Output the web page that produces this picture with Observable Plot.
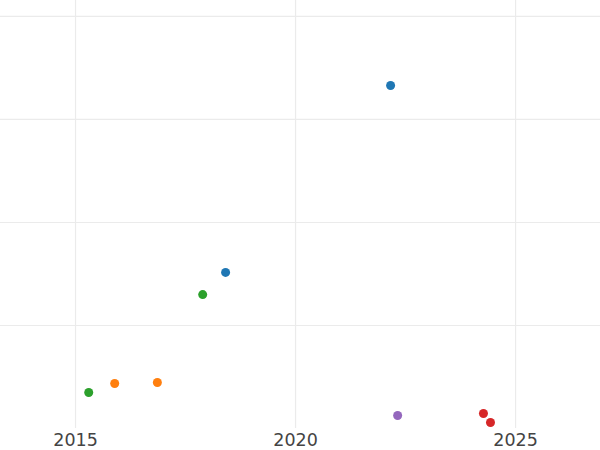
<!DOCTYPE html>
<html>
<head>
<meta charset="utf-8">
<script src="https://cdn.jsdelivr.net/npm/d3@7"></script>
<script src="https://cdn.jsdelivr.net/npm/@observablehq/plot@0.6"></script>
<style>
  html, body { margin: 0; padding: 0; background: #fff; }
</style>
</head>
<body>
<div id="chart"></div>
<script>
const years = [2022.16, 2018.41, 2017.89, 2015.30, 2015.89, 2016.86, 2022.32, 2024.27, 2024.43];
const values = [333, 151.5, 130, 35, 43.7, 44.7, 12.6, 14.6, 5.8];
const groups = ["A", "A", "C", "C", "B", "B", "E", "D", "D"];
const groupNames = ["A", "B", "C", "D", "E"];
const groupColors = ["#1f77b4", "#ff7f0e", "#2ca02c", "#d62728", "#9467bd"];
const xTicks = [2015, 2020, 2025];
const yTicks = [100, 200, 300, 400];

const data = years.map((x, i) => ({x, y: values[i], g: groups[i]}));

const chart = Plot.plot({
  width: 600,
  height: 450,
  marginLeft: 0,
  marginRight: 0,
  marginTop: 0,
  marginBottom: 22,
  style: {fontFamily: "DejaVu Sans", background: "#fff"},
  x: {domain: [2013.295, 2026.93], ticks: xTicks, tickFormat: d => String(d), label: null},
  y: {domain: [0, 415.5], ticks: yTicks, label: null, axis: null},
  color: {domain: groupNames, range: groupColors},
  marks: [
    Plot.gridX(xTicks, {stroke: "#ebebeb", strokeOpacity: 1, strokeWidth: 1.2}),
    Plot.gridY(yTicks, {stroke: "#ebebeb", strokeOpacity: 1, strokeWidth: 1.2}),
    Plot.axisX(xTicks, {tickSize: 0, tickPadding: 5, fontSize: 17.5, fill: "#444", tickFormat: d => String(d), label: null}),
    Plot.dot(data, {x: "x", y: "y", fill: "g", r: 4.5})
  ]
});
document.getElementById("chart").appendChild(chart);
</script>
</body>
</html>
